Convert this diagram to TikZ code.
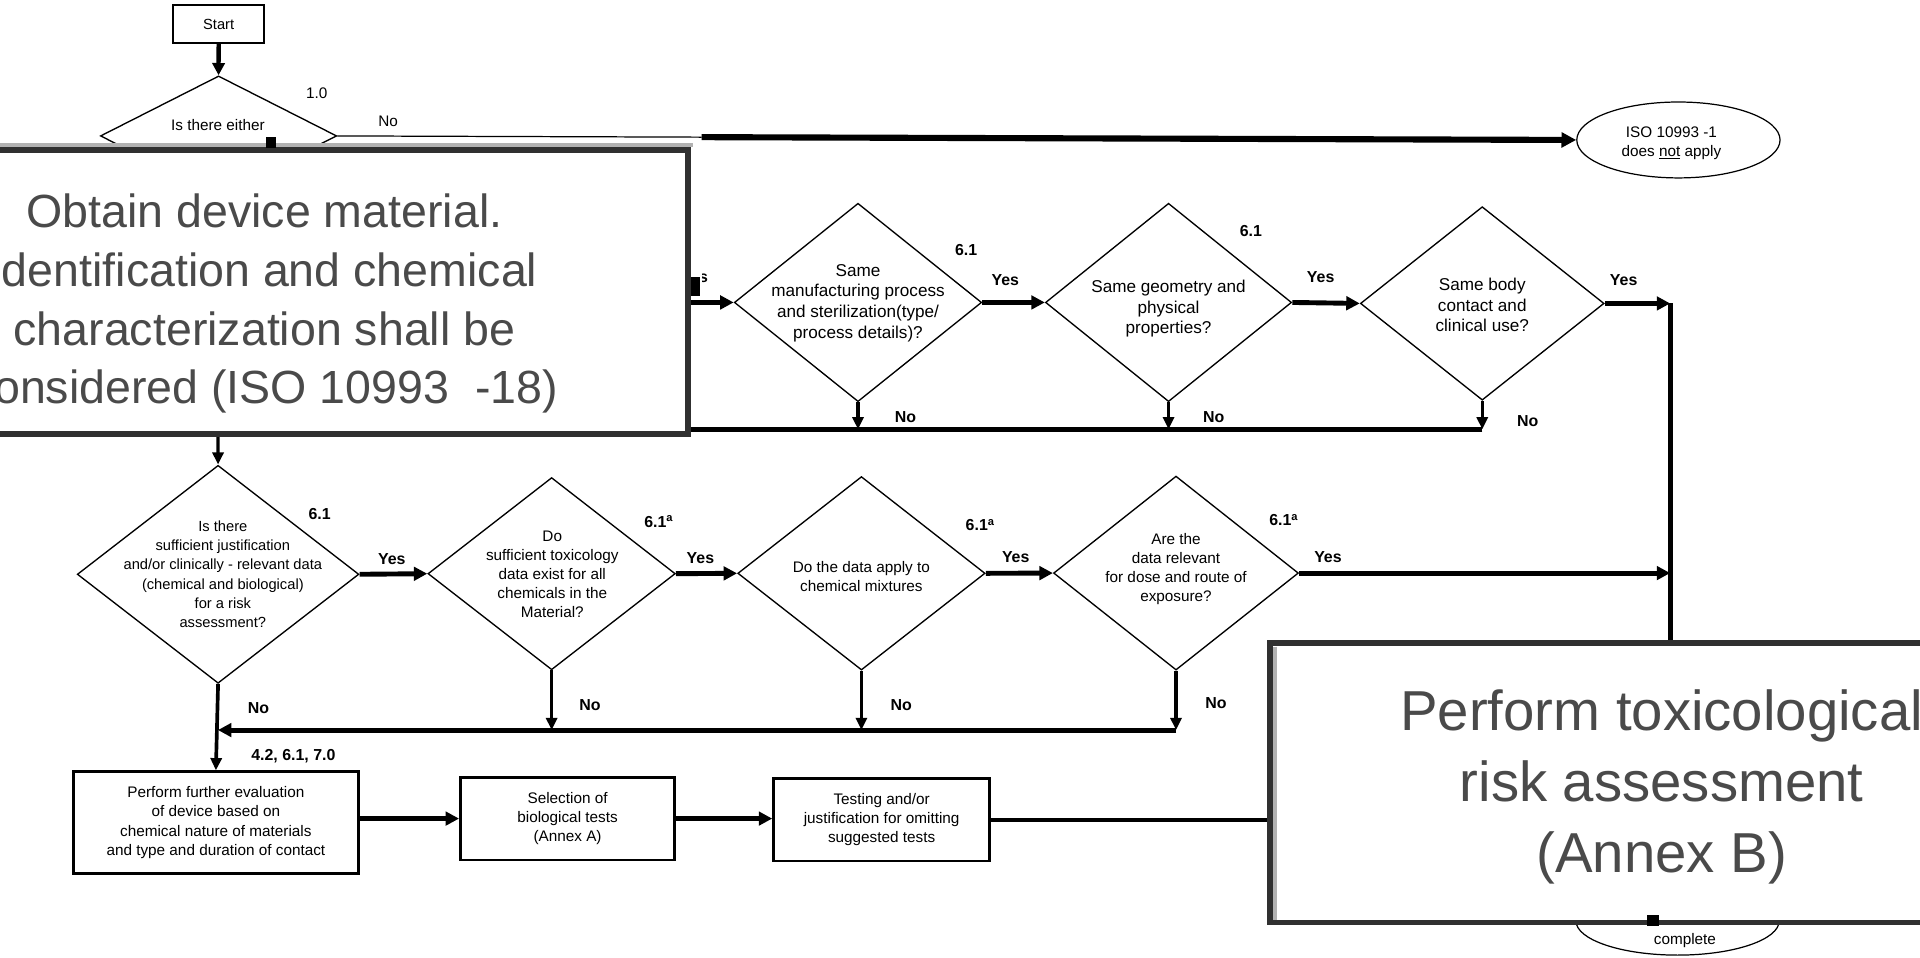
\documentclass[tikz,border=0pt]{standalone}
\usepackage{fontspec}
\setmainfont{Liberation Sans}
\usetikzlibrary{shapes.geometric,arrows.meta}
\definecolor{bigtext}{HTML}{4A4A4A}
\definecolor{bigborder}{HTML}{303030}
\begin{document}
\begin{tikzpicture}[x=1pt,y=-1pt,
  dia/.style={diamond, draw, line width=1.1pt, inner sep=0pt},
  dtxt/.style={font=\fontsize{14}{17}\selectfont, align=center},
  stxt/.style={font=\fontsize{12.5}{15.5}\selectfont, align=center},
  lbl/.style={font=\bfseries\fontsize{13}{15}\selectfont},
  nlbl/.style={font=\fontsize{12.5}{15}\selectfont},
  flowbox/.style={draw, line width=2.2pt, inner sep=0pt, align=center, font=\fontsize{12.5}{15.7}\selectfont},
  arr/.style={line width=4pt, -{Triangle[length=11pt,width=11pt]}},
  arrm/.style={line width=2.6pt, -{Triangle[length=10pt,width=9pt]}},
  ln/.style={line width=4pt},
  bigbox/.style={draw=bigborder, fill=white, line width=4.5pt, inner sep=0pt},
  bigtxt/.style={text=bigtext, align=center}
]
\useasboundingbox (0,0) rectangle (1568,782);

% ---------- top ----------
\node[flowbox, line width=1.5pt, minimum width=74pt, minimum height=31pt, font=\fontsize{12}{14}\selectfont] (start) at (178.6,19.7) {Start};
\node[dia, minimum width=193pt, minimum height=98pt] (d0) at (178.5,111) {};
\draw[line width=3.5pt, -{Triangle[length=10pt,width=10pt]}] (start) -- (d0.north);
\node[stxt] (d0t) at (178,102) {Is there either};
\node[nlbl] (l10) at (258.7,76) {1.0};
\node[nlbl] (lno0) at (317,99.4) {No};
\node[draw, ellipse, line width=1pt, minimum width=166pt, minimum height=62pt, inner sep=0pt] (iso) at (1370.7,114.3) {};
\node[stxt] (isot) at (1365,117) {ISO 10993 -1\\does \underline{not} apply};
\coordinate (j1) at (573,112);
\draw[line width=1pt] (d0.east) -- (j1);
\draw[line width=5pt, -{Triangle[length=12pt,width=12pt]}] (j1) -- (iso.west);

% ---------- row 2 ----------
\node[dia, minimum width=202pt, minimum height=162pt] (d2a) at (700.7,247) {};
\node[dtxt] (d2at) at (700.7,247.5) {Same\\manufacturing process\\and sterilization(type/\\process details)?};
\node[dia, minimum width=201pt, minimum height=162pt] (d2b) at (954.3,247) {};
\node[dtxt] (d2bt) at (954.3,252) {Same geometry and\\physical\\properties?};
\node[dia, minimum width=199pt, minimum height=158pt] (d2c) at (1210.5,247.8) {};
\node[dtxt] (d2ct) at (1210.5,249) {Same body\\contact and\\clinical use?};

\coordinate (yin) at (540,247);
\draw[arr] (yin) -- (d2a.west);
\begin{scope}
  \clip (574,205) rectangle (598,240);
  \node[lbl] (lys0) at (567,226) {Yes};
\end{scope}
\draw[arr] (d2a.east) -- (d2b.west);
\node[lbl] (lys1) at (821,228.7) {Yes};
\draw[arr] (d2b.east) -- (d2c.west);
\node[lbl] (lys2) at (1078.5,226) {Yes};
\coordinate (vr1) at (1364,247.8);
\coordinate (vr2) at (1364,468);
\coordinate (vr3) at (1364,640);
\draw[arr] (d2c.east) -- (vr1);
\node[lbl] (lys3) at (1326,229) {Yes};
\draw[ln] (vr1) -- (vr3);
\node[lbl] (l61a) at (789,204) {6.1};
\node[lbl] (l61b) at (1021.6,189) {6.1};

\coordinate (n2a) at (700.7,350.6);
\coordinate (n2b) at (954.3,350.6);
\coordinate (n2c) at (1210.5,350.6);
\coordinate (n2l) at (178,350.6);
\draw[ln] (n2c) -- (n2l);
\draw[arrm] (d2a.south) -- (n2a);
\draw[arrm] (d2b.south) -- (n2b);
\draw[arrm] (d2c.south) -- (n2c);
\node[lbl] (lno1) at (739.4,340.3) {No};
\node[lbl] (lno2) at (991.2,341) {No};
\node[lbl] (lno3) at (1247.7,343.6) {No};

% ---------- row 3 ----------
\node[dia, minimum width=230pt, minimum height=178pt] (d3a) at (178.1,469) {};
\node[align=center, font=\fontsize{12}{15.8}\selectfont] (d3at) at (182,469) {Is there\\sufficient justification\\and/or clinically - relevant data\\(chemical and biological)\\for a risk\\assessment?};
\node[dia, minimum width=202pt, minimum height=157pt] (d3b) at (450.5,468.5) {};
\node[stxt] (d3bt) at (451,469) {Do\\sufficient toxicology\\data exist for all\\chemicals in the\\Material?};
\node[dia, minimum width=202pt, minimum height=158pt] (d3c) at (703.5,468.2) {};
\node[stxt] (d3ct) at (703.5,470.5) {Do the data apply to\\chemical mixtures};
\node[dia, minimum width=200pt, minimum height=158.4pt] (d3d) at (960.4,468) {};
\node[stxt] (d3dt) at (960.4,464.5) {Are the\\data relevant\\for dose and route of\\exposure?};

\coordinate (dn1) at (178,340);
\draw[arrm] (dn1) -- (d3a.north);
\draw[arr] (d3a.east) -- (d3b.west);
\node[lbl] (lys4) at (320,456.5) {Yes};
\draw[arr] (d3b.east) -- (d3c.west);
\node[lbl] (lys5) at (572,456) {Yes};
\draw[arr] (d3c.east) -- (d3d.west);
\node[lbl] (lys6) at (829.5,454.6) {Yes};
\draw[arr] (d3d.east) -- (vr2);
\node[lbl] (lys7) at (1084.5,454.6) {Yes};
\node[lbl] (l61c) at (261,420) {6.1};
\node[lbl] (l61d) at (538,426) {6.1\textsuperscript{a}};
\node[lbl] (l61e) at (800.5,428.7) {6.1\textsuperscript{a}};
\node[lbl] (l61f) at (1048.4,424.7) {6.1\textsuperscript{a}};

\coordinate (n3a) at (178,596.2);
\coordinate (n3b) at (450.5,596.2);
\coordinate (n3c) at (703.5,596.2);
\coordinate (n3d) at (960.4,596.2);
\draw[arrm] (d3b.south) -- (n3b);
\draw[arrm] (d3c.south) -- (n3c);
\draw[arrm] (d3d.south) -- (n3d);
\draw[arr] (n3d) -- (n3a);
\node[lbl] (lno4) at (211,578.5) {No};
\node[lbl] (lno5) at (481.8,575.7) {No};
\node[lbl] (lno6) at (736,576) {No};
\node[lbl] (lno7) at (993,574.4) {No};
\node[lbl] (lsec) at (239.6,617.4) {4.2, 6.1, 7.0};

% ---------- bottom boxes ----------
\node[flowbox, minimum width=232.8pt, minimum height=83pt] (b1) at (176.3,671.7) {Perform further evaluation\\of device based on\\chemical nature of materials\\and type and duration of contact};
\node[flowbox, minimum width=175pt, minimum height=67.5pt] (b2) at (463.5,668.5) {Selection of\\biological tests\\(Annex A)};
\node[flowbox, minimum width=176.5pt, minimum height=67.2pt] (b3) at (720,669.5) {Testing and/or\\justification for omitting\\suggested tests};
\draw[arrm, line width=3pt] (d3a.south) -- (b1.north);
\draw[arr] (b1.east |- b2.west) -- (b2.west);
\draw[arr] (b2.east) -- (b2.east -| b3.west);
\coordinate (b3r) at (1100,669.5);
\draw[ln, line width=3pt] (b3.east) -- (b3r);

\node[draw, ellipse, line width=1pt, minimum width=166pt, minimum height=56pt, inner sep=0pt] (endE) at (1370,752) {};
\node[nlbl] (endt) at (1376,768) {complete};

% ---------- overlay boxes ----------
\draw[gray!60, line width=3pt] (-150,118.5) -- (566,118.5);
\node[bigbox, minimum width=700pt, minimum height=232pt] (obtain) at (212,238.5) {};
\node[bigtxt, font=\fontsize{38}{48}\selectfont] (obtaint) at (216,248) {Obtain device material.\\identification and chemical\\characterization shall be\\considered (ISO 10993 \ -18)};

\node[bigbox, minimum width=663pt, minimum height=228.5pt] (tox) at (1368.5,639.25) {};
\draw[gray!60, line width=3pt] (1041.5,528) -- (1041.5,751);
\node[bigtxt, font=\fontsize{46}{58}\selectfont] (toxt) at (1357,643) {Perform toxicological\\risk assessment\\(Annex B)};

\fill (217.5,111.6) rectangle (225,121);
\fill (564,226) rectangle (572,242);
\fill (1345,747) rectangle (1355,756);
\end{tikzpicture}
\end{document}
